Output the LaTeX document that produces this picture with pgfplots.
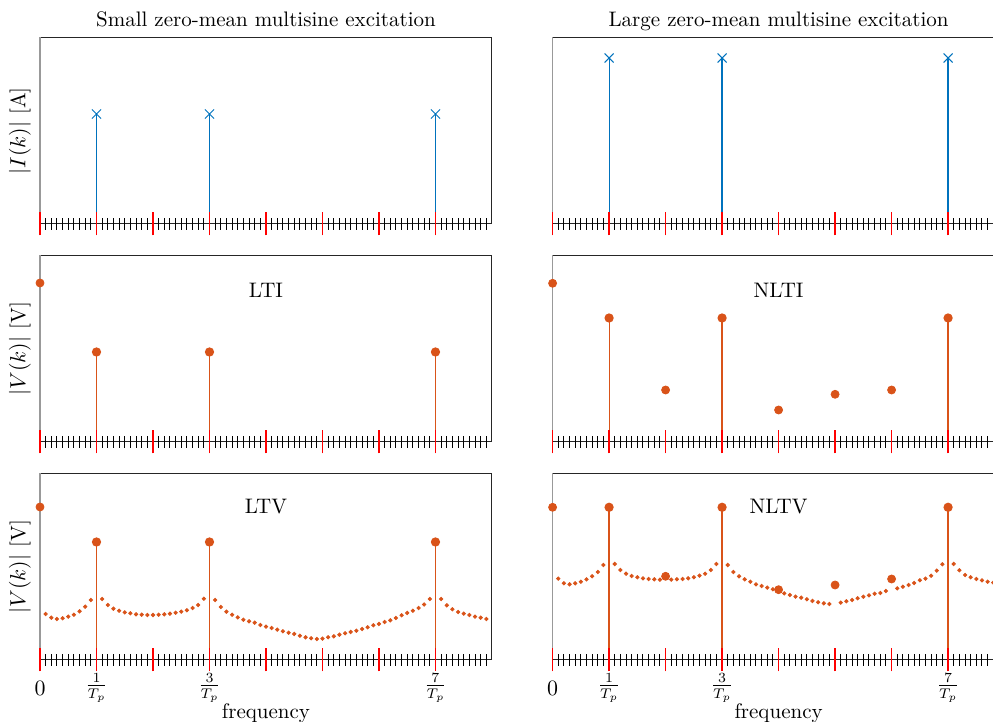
\documentclass[border=0pt]{standalone}
\usepackage{pgfplots}
\pgfplotsset{compat=1.18}
\definecolor{mblue}{rgb}{0,0.447,0.741}
\definecolor{morange}{rgb}{0.851,0.325,0.098}
\pgfplotsset{
 panel/.style={
  width=226pt, height=93.25pt, scale only axis,
  xmin=0, xmax=8, ymin=0, ymax=186.5,
  xtick={0,...,7}, xtick pos=bottom,
  ytick=\empty,
  major tick length=0pt,
  xticklabels={},
  xticklabel style={anchor=center, yshift=-14pt},
  axis line style={line width=0.5pt, black!85},
  clip=false,
  font=\fontsize{10.5}{12.5}\selectfont,
  every axis title shift=0pt,
  title style={at={(0.5,1)}, anchor=base, yshift=5.5pt, font=\fontsize{10.5}{12.5}\selectfont},
  ylabel style={at={(axis description cs:-0.0442,0.5)}, anchor=center, font=\fontsize{10.5}{12.5}\selectfont},
  xlabel style={at={(axis description cs:0.5,0)}, anchor=base, yshift=-29.5pt, font=\fontsize{10.5}{12.5}\selectfont},
 },
 bottomrow/.style={xticklabels={$0$,$\frac{1}{T_p}$,,$\frac{3}{T_p}$,,,,$\frac{7}{T_p}$}, xlabel={frequency}},
 stem/.style={ycomb, line width=0.6pt},
 bigdot/.style={only marks, mark=*, mark size=2pt, color=morange},
 smalldot/.style={only marks, mark=*, mark size=0.85pt, color=morange},
}
\newcommand{\leftspine}{\draw[gray!80, line width=0.6pt] (rel axis cs:0,0) -- (rel axis cs:0,1);}
\newcommand{\freqticks}{%
 \pgfplotsinvokeforeach{1,...,79}{\draw[black,line width=0.5pt] (axis cs:##1*0.1,0) ++(0,-3pt) -- ++(0,6pt);}%
 \pgfplotsinvokeforeach{0,...,7}{\draw[red,line width=0.65pt] (axis cs:##1,0) ++(0,-5.75pt) -- ++(0,11.5pt);}%
}
\begin{document}
\begin{tikzpicture}
\path[use as bounding box] (0,0) rectangle (496.5pt,361pt);
% ---------------- row 1 ----------------
\begin{axis}[panel, at={(20pt,249pt)}, anchor=south west,
  title={Small zero-mean multisine excitation}, ylabel={$|I(k)|$ [A]}]
\leftspine
\addplot[stem, mblue, mark=x, mark size=3.2pt, mark options={line width=0.5pt}] coordinates {(1,110) (3,110) (7,110)};
\freqticks
\end{axis}
\begin{axis}[panel, at={(276.3pt,249pt)}, anchor=south west,
  title={Large zero-mean multisine excitation}]
\leftspine
\addplot[stem, mblue, mark=x, mark size=3.2pt, mark options={line width=0.5pt}] coordinates {(1,166) (3,166) (7,166)};
\freqticks
\end{axis}
% ---------------- row 2 ----------------
\begin{axis}[panel, at={(20pt,140pt)}, anchor=south west, ylabel={$|V(k)|$ [V]}]
\leftspine
\addplot[stem, morange, mark=*, mark size=2pt] coordinates {(1,90) (3,90) (7,90)};
\addplot[bigdot] coordinates {(0,159)};
\node at (axis cs:4,152) {LTI};
\freqticks
\end{axis}
\begin{axis}[panel, at={(276.3pt,140pt)}, anchor=south west]
\leftspine
\addplot[stem, morange, mark=*, mark size=2pt] coordinates {(1,124) (3,124) (7,124)};
\addplot[bigdot] coordinates {(0,158.7) (2,52) (4,32) (5,47.7) (6,52)};
\node at (axis cs:4,152) {NLTI};
\freqticks
\end{axis}
% ---------------- row 3 ----------------
\begin{axis}[panel, bottomrow, at={(20pt,31pt)}, anchor=south west, ylabel={$|V(k)|$ [V]}]
\leftspine
\addplot[smalldot] coordinates {
(0.1,46) (0.2,42.3) (0.3,41) (0.4,41.7) (0.5,43.3) (0.6,45.3) (0.7,48.7) (0.8,53.3) (0.9,60)
(1.1,61) (1.2,55) (1.3,51.3) (1.4,49.3) (1.5,47.7) (1.6,46.7) (1.7,45.7) (1.8,45.3) (1.9,45)
(2.0,45) (2.1,45.3) (2.2,45.7) (2.3,46.3) (2.4,47.3) (2.5,48.3) (2.6,49.7) (2.7,52) (2.8,55) (2.9,61.3)
(3.1,60) (3.2,53) (3.3,48.3) (3.4,45.3) (3.5,42.7) (3.6,40.3) (3.7,38.7) (3.8,37.3) (3.9,35)
(4.0,33.3) (4.1,32) (4.2,30.3) (4.3,28.7) (4.4,27.3) (4.5,26) (4.6,24.3) (4.7,22.7) (4.8,21.7) (4.9,21)
(5.0,21.3) (5.1,22.7) (5.2,23.7) (5.3,25.3) (5.4,26.7) (5.5,28) (5.6,29.3) (5.7,31) (5.8,32.7) (5.9,34.7)
(6.0,36) (6.1,38) (6.2,39.7) (6.3,42) (6.4,44.7) (6.5,47) (6.6,49.3) (6.7,52) (6.8,55.5) (6.9,61)
(7.1,61) (7.2,54.7) (7.3,50.7) (7.4,48) (7.5,46.3) (7.6,45) (7.7,43.3) (7.8,42.3) (7.9,41)};
\addplot[stem, morange, mark=*, mark size=2pt] coordinates {(1,118) (3,118) (7,118)};
\addplot[bigdot] coordinates {(0,153)};
\node at (axis cs:4,153) {LTV};
\freqticks
\end{axis}
\begin{axis}[panel, bottomrow, at={(276.3pt,31pt)}, anchor=south west]
\leftspine
\addplot[smalldot] coordinates {
(0.1,81.3) (0.2,76.7) (0.3,75.7) (0.4,76.7) (0.5,78.3) (0.6,80.7) (0.7,83.7) (0.8,88) (0.9,95)
(1.1,96) (1.2,90) (1.3,86.3) (1.4,84) (1.5,82.7) (1.6,81.7) (1.7,81) (1.8,80.7) (1.9,80.3)
(2.1,80.3) (2.2,80.7) (2.3,81) (2.4,81.7) (2.5,82.7) (2.6,84.3) (2.7,86.3) (2.8,90) (2.9,96)
(3.1,95) (3.2,88) (3.3,83.7) (3.4,80.7) (3.5,78.3) (3.6,75.7) (3.7,74) (3.8,72.3) (3.9,70.7)
(4.1,66.7) (4.2,65) (4.3,63.3) (4.4,62.3) (4.5,60.7) (4.6,59) (4.7,57.7) (4.8,56.7) (4.9,56)
(5.1,57.3) (5.2,58.7) (5.3,60) (5.4,61.7) (5.5,63.3) (5.6,64.7) (5.7,66.3) (5.8,67) (5.9,69)
(6.1,71.7) (6.2,73.3) (6.3,75) (6.4,77) (6.5,79.7) (6.6,81.3) (6.7,84.3) (6.8,89.3) (6.9,95.7)
(7.1,96) (7.2,89.7) (7.3,85) (7.4,82.7) (7.5,81) (7.6,79.7) (7.7,78.3) (7.8,77.3) (7.9,76.5)};
\addplot[stem, morange, mark=*, mark size=2pt] coordinates {(1,152.7) (3,152.7) (7,152.7)};
\addplot[bigdot] coordinates {(0,152.7) (2,83.7) (4,70.3) (5,75) (6,81)};
\node at (axis cs:4,153) {NLTV};
\freqticks
\end{axis}
\end{tikzpicture}
\end{document}
